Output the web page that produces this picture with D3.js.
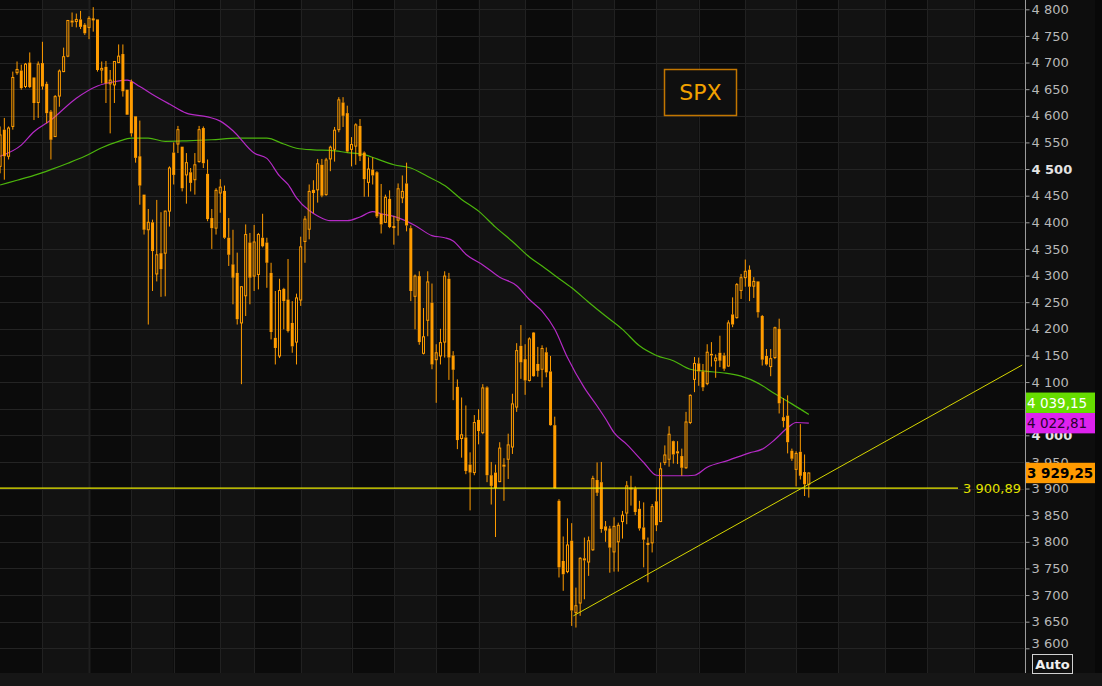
<!doctype html>
<html>
<head>
<meta charset="utf-8">
<title>SPX</title>
<script src="https://d3js.org/d3.v7.min.js"></script>
<style>
  body { margin: 0; background: #0b0b0b; }
  svg { display: block; font-family: "DejaVu Sans", sans-serif; }
</style>
</head>
<body>
<svg id="chart"></svg>
<script>
// daily candles (index 0 = first visible bar)
var opens = [
  4505, 4574, 4524, 4580, 4681, 4685, 4655, 4700, 4672, 4625,
  4699, 4660, 4608, 4561, 4637, 4683, 4712, 4779, 4777, 4781,
  4771, 4766, 4781, 4781, 4686, 4692, 4660, 4658, 4700, 4716,
  4649, 4664, 4599, 4524, 4452, 4386, 4400, 4303, 4342, 4342,
  4421, 4531, 4547, 4542, 4489, 4494, 4480, 4514, 4577, 4491,
  4408, 4389, 4455, 4459, 4371, 4321, 4305, 4211, 4262, 4362,
  4299, 4302, 4371, 4362, 4305, 4183, 4149, 4275, 4255, 4211,
  4175, 4254, 4364, 4387, 4461, 4461, 4508, 4452, 4519, 4537,
  4574, 4625, 4605, 4537, 4543, 4581, 4531, 4475, 4499, 4494,
  4416, 4400, 4444, 4391, 4404, 4446, 4473, 4389, 4261, 4299,
  4154, 4216, 4249, 4142, 4149, 4175, 4294, 4150, 4091, 3994,
  3996, 3945, 3930, 4029, 4005, 4090, 3925, 3930, 3913, 3945,
  3955, 3978, 4053, 4168, 4143, 4103, 4193, 4134, 4124, 4156,
  4120, 4019, 3877, 3764, 3744, 3802, 3667, 3685, 3769, 3762,
  3785, 3916, 3912, 3829, 3825, 3781, 3800, 3838, 3854, 3902,
  3900, 3862, 3827, 3798, 3798, 3876, 3838, 3949, 3955, 3989,
  3970, 3961, 3939, 4024, 4105, 4135, 4120, 4097, 4153, 4140,
  4155, 4150, 4130, 4227, 4221, 4272, 4296, 4311, 4280, 4289,
  4224, 4149, 4129, 4146, 4200, 4034, 4037, 3971, 3936, 3969,
  3931, 3908
];
var highs = [
  4580, 4596, 4580, 4683, 4702, 4696, 4699, 4719, 4672, 4702,
  4739, 4664, 4611, 4639, 4687, 4728, 4780, 4794, 4792, 4797,
  4774, 4787, 4804, 4781, 4702, 4703, 4686, 4702, 4734, 4734,
  4649, 4668, 4599, 4591, 4452, 4425, 4405, 4442, 4419, 4422,
  4505, 4550, 4581, 4542, 4530, 4502, 4530, 4581, 4580, 4518,
  4425, 4464, 4481, 4469, 4408, 4386, 4343, 4280, 4396, 4380,
  4395, 4380, 4416, 4371, 4324, 4271, 4294, 4277, 4331, 4252,
  4266, 4373, 4412, 4471, 4479, 4519, 4519, 4521, 4544, 4579,
  4635, 4635, 4619, 4560, 4586, 4594, 4533, 4522, 4522, 4496,
  4472, 4452, 4460, 4412, 4473, 4488, 4512, 4394, 4302, 4308,
  4239, 4308, 4285, 4171, 4200, 4308, 4305, 4158, 4105, 4071,
  4056, 3968, 4038, 4049, 4096, 4092, 3950, 3945, 3987, 3957,
  4003, 4078, 4173, 4207, 4171, 4184, 4194, 4166, 4169, 4165,
  4149, 4035, 3880, 3810, 3844, 3835, 3714, 3771, 3808, 3810,
  3924, 3949, 3950, 3839, 3830, 3846, 3836, 3858, 3914, 3924,
  3904, 3877, 3874, 3808, 3871, 3902, 3949, 3981, 4017, 3990,
  3989, 3975, 4044, 4077, 4147, 4146, 4134, 4171, 4175, 4152,
  4187, 4155, 4216, 4259, 4286, 4303, 4330, 4319, 4297, 4289,
  4226, 4162, 4162, 4204, 4219, 4070, 4075, 3975, 3970, 4021,
  3964, 3930
];
var lows = [
  4492, 4480, 4518, 4574, 4677, 4649, 4652, 4652, 4592, 4596,
  4649, 4586, 4518, 4560, 4617, 4682, 4710, 4767, 4766, 4763,
  4752, 4744, 4758, 4683, 4661, 4624, 4567, 4624, 4699, 4636,
  4602, 4561, 4512, 4433, 4377, 4208, 4271, 4289, 4260, 4261,
  4392, 4471, 4530, 4458, 4435, 4458, 4452, 4512, 4502, 4402,
  4350, 4377, 4418, 4369, 4318, 4246, 4208, 4096, 4224, 4246,
  4271, 4274, 4353, 4277, 4180, 4133, 4145, 4199, 4193, 4155,
  4133, 4243, 4324, 4368, 4417, 4437, 4447, 4450, 4496, 4514,
  4569, 4579, 4531, 4505, 4508, 4515, 4448, 4448, 4471, 4408,
  4379, 4399, 4389, 4358, 4375, 4436, 4383, 4252, 4199, 4170,
  4152, 4186, 4124, 4061, 4133, 4146, 4104, 4066, 3974, 3958,
  3927, 3859, 3925, 3983, 4002, 3912, 3870, 3809, 3912, 3877,
  3918, 3965, 4044, 4106, 4076, 4101, 4110, 4110, 4090, 4109,
  4018, 3900, 3733, 3708, 3741, 3642, 3639, 3661, 3692, 3736,
  3783, 3886, 3817, 3800, 3742, 3744, 3744, 3806, 3833, 3868,
  3850, 3821, 3752, 3724, 3780, 3820, 3837, 3944, 3941, 3947,
  3946, 3924, 3937, 4021, 4081, 4093, 4083, 4094, 4129, 4108,
  4128, 4121, 4129, 4203, 4219, 4256, 4279, 4252, 4258, 4221,
  4131, 4131, 4111, 4143, 4041, 4015, 3966, 3952, 3904, 3917,
  3886, 3883
];
var closes = [
  4564, 4524, 4577, 4672, 4687, 4652, 4697, 4654, 4624, 4697,
  4655, 4605, 4555, 4636, 4684, 4711, 4779, 4775, 4781, 4767,
  4755, 4783, 4782, 4686, 4689, 4661, 4667, 4702, 4712, 4646,
  4602, 4567, 4521, 4469, 4386, 4400, 4346, 4339, 4312, 4421,
  4502, 4489, 4574, 4464, 4512, 4474, 4508, 4574, 4511, 4406,
  4389, 4460, 4466, 4371, 4339, 4296, 4218, 4279, 4377, 4296,
  4363, 4377, 4355, 4324, 4194, 4164, 4272, 4252, 4196, 4167,
  4258, 4354, 4406, 4458, 4455, 4510, 4450, 4517, 4541, 4573,
  4630, 4600, 4533, 4546, 4583, 4524, 4481, 4500, 4488, 4411,
  4396, 4447, 4391, 4392, 4463, 4458, 4394, 4271, 4299, 4175,
  4185, 4288, 4133, 4155, 4174, 4299, 4146, 4123, 3991, 4001,
  3933, 3930, 4024, 4008, 4089, 3925, 3905, 3901, 3976, 3941,
  3982, 4059, 4159, 4137, 4103, 4181, 4111, 4121, 4163, 4118,
  4019, 3901, 3752, 3739, 3794, 3671, 3680, 3769, 3765, 3802,
  3919, 3892, 3824, 3821, 3789, 3829, 3831, 3850, 3905, 3898,
  3856, 3825, 3804, 3794, 3866, 3831, 3937, 3963, 4002, 3964,
  3966, 3939, 4025, 4075, 4135, 4120, 4090, 4156, 4150, 4145,
  4140, 4125, 4211, 4208, 4283, 4296, 4308, 4279, 4289, 4231,
  4142, 4133, 4144, 4202, 4060, 4027, 3987, 3956, 3966, 3924,
  3908, 3929.25
];

// moving averages (bar index -> value)
var ma50Idx = [0, 5, 8, 12, 18, 23, 27, 30, 33, 36, 40, 44, 49, 52, 55, 60, 63, 66, 68, 70,
  73, 75, 78, 82, 85, 88, 90, 93, 98, 102, 105, 107, 110, 114, 118, 122, 125, 128, 131, 134,
  138, 141, 143, 145, 148, 152, 155, 158, 161, 164, 167, 172, 177, 180, 183, 186, 188, 191];
var ma50Val = [4524, 4545, 4570, 4592, 4633, 4656, 4664, 4667, 4655, 4640, 4622, 4605, 4598, 4590, 4572, 4530, 4520, 4487, 4471, 4446,
  4422, 4412, 4403, 4403, 4410, 4420, 4416, 4411, 4394, 4375, 4371, 4365, 4340, 4320, 4297, 4281, 4255, 4233, 4199, 4146,
  4089, 4055, 4031, 4005, 3983, 3949, 3925, 3924, 3924, 3925, 3940, 3953, 3967, 3974, 3992, 4014, 4024, 4022.81];

var ma100Idx = [0, 4, 8, 12, 16, 20, 24, 28, 31, 35, 39, 44, 50, 56, 63, 67, 70, 74, 78, 82,
  86, 89, 93, 97, 101, 105, 109, 113, 117, 121, 125, 128, 131, 135, 139, 143, 147, 151, 155, 159,
  163, 167, 171, 175, 179, 183, 187, 191];
var ma100Val = [4470, 4479, 4488, 4499, 4511, 4524, 4540, 4552, 4558, 4558, 4552, 4553, 4555, 4558, 4558, 4547, 4539, 4536, 4535, 4531,
  4527, 4519, 4508, 4502, 4486, 4469, 4443, 4421, 4391, 4364, 4335, 4318, 4300, 4277, 4250, 4224, 4199, 4168, 4150, 4140,
  4124, 4120, 4117, 4111, 4098, 4078, 4059, 4039.15];

// date gridlines (1st / 16th of month), as bar indices; 21 = new year
var gridIdx = [10, 21, 31, 41, 52, 60, 71, 83, 93, 103, 113, 124, 135, 145, 155, 165, 176, 188, 198, 209, 219, 230];
var yearIdx = 21;

var yTicks = d3.range(3600, 4801, 50);
var hLevel = 3900.89;
var trendIdx = [135.4, 241.4];
var trendVal = [3661, 4132];
var symbol = "SPX";

// ---------------------------------------------------------------
var W = 1102, H = 686, plotW = 1024, plotH = 673;
var orange = "#ff9c00";

var svg = d3.select("#chart").attr("width", W).attr("height", H);
svg.append("rect").attr("width", W).attr("height", H).attr("fill", "#0d0d0d");

var x = d3.scaleLinear().domain([0, 241.8]).range([0.1, 1023.9]);
var y = d3.scaleLinear().domain([3600, 4800]).range([648.3, 9.3]);

var loc = d3.formatLocale({decimal: ",", thousands: " ", grouping: [3], currency: ["", ""]});
var fmtTick = loc.format(",d"), fmtVal = loc.format(",.2f");

var defs = svg.append("defs");
defs.append("clipPath").attr("id", "plotClip")
  .append("rect").attr("width", plotW).attr("height", plotH);
defs.append("clipPath").attr("id", "axisClip")
  .append("rect").attr("x", 1024).attr("width", 71).attr("height", plotH);

var plot = svg.append("g").attr("clip-path", "url(#plotClip)");

// alternating column shading between date gridlines
var edges = [0].concat(gridIdx.map(d => x(d))).concat([plotW]);
plot.append("g").selectAll("rect").data(d3.range(edges.length - 1)).join("rect")
  .attr("x", k => edges[k]).attr("width", k => edges[k + 1] - edges[k])
  .attr("y", 0).attr("height", plotH)
  .attr("fill", k => k % 2 ? "#121212" : "#0b0b0b");

// horizontal grid
plot.append("g")
  .call(d3.axisRight(y).tickValues(yTicks).tickSize(plotW).tickFormat(""))
  .call(g => g.select(".domain").remove())
  .call(g => g.selectAll(".tick line").attr("stroke", "#242424").attr("shape-rendering", "crispEdges"));

// vertical grid
plot.append("g").selectAll("line").data(gridIdx).join("line")
  .attr("x1", d => Math.round(x(d)) + 0.5).attr("x2", d => Math.round(x(d)) + 0.5)
  .attr("y1", 0).attr("y2", plotH)
  .attr("stroke", d => d === yearIdx ? "#1f1f1f" : "#212121")
  .attr("stroke-width", d => d === yearIdx ? 2 : 1);

// moving averages
var maLine = d3.line().x(d => x(d[0])).y(d => y(d[1])).curve(d3.curveMonotoneX);
plot.append("path").datum(d3.zip(ma100Idx, ma100Val)).attr("d", maLine)
  .attr("fill", "none").attr("stroke", "#4cb50c").attr("stroke-width", 1.2);
plot.append("path").datum(d3.zip(ma50Idx, ma50Val)).attr("d", maLine)
  .attr("fill", "none").attr("stroke", "#b52ac6").attr("stroke-width", 1.2);

// candles
var bars = plot.append("g").selectAll("g").data(d3.range(closes.length)).join("g");
bars.append("path")
  .attr("d", i => {
    var cx = x(i), top = Math.max(opens[i], closes[i]), bot = Math.min(opens[i], closes[i]);
    return "M" + cx + "," + y(highs[i]) + "V" + y(top) + "M" + cx + "," + y(bot) + "V" + y(lows[i]);
  })
  .attr("fill", "none").attr("stroke", orange).attr("stroke-width", 1);
bars.append("rect")
  .attr("x", i => closes[i] > opens[i] ? x(i) - 1 : x(i) - 1.5)
  .attr("width", i => closes[i] > opens[i] ? 2 : 3)
  .attr("y", i => y(Math.max(opens[i], closes[i])))
  .attr("height", i => Math.max(1, y(Math.min(opens[i], closes[i])) - y(Math.max(opens[i], closes[i]))))
  .attr("fill", i => closes[i] > opens[i] ? "none" : orange)
  .attr("stroke", i => closes[i] > opens[i] ? orange : "none")
  .attr("stroke-width", 1);

// horizontal level line + label
plot.append("line")
  .attr("x1", 0).attr("x2", 958)
  .attr("y1", y(hLevel)).attr("y2", y(hLevel))
  .attr("stroke", "#eded00").attr("stroke-width", 1.2);
plot.append("text")
  .attr("x", 1021).attr("y", y(hLevel)).attr("dy", "0.36em")
  .attr("text-anchor", "end").attr("font-size", 13).attr("fill", "#e2e200")
  .text(fmtVal(hLevel));

// trend line
plot.append("line")
  .attr("x1", x(trendIdx[0])).attr("y1", y(trendVal[0]))
  .attr("x2", x(trendIdx[1])).attr("y2", y(trendVal[1]))
  .attr("stroke", "#d6d600").attr("stroke-width", 1);

// symbol box
var sb = svg.append("g");
sb.append("rect").attr("x", 664.5).attr("y", 69.5).attr("width", 72).attr("height", 46)
  .attr("fill", "#0f0f0f").attr("stroke", "#c27600").attr("stroke-width", 1.5);
sb.append("text").attr("x", 700.5).attr("y", 100).attr("text-anchor", "middle")
  .attr("font-size", 22).attr("fill", "#f2a200").text(symbol);

// bottom strip and right edge
svg.append("rect").attr("x", 0).attr("y", plotH).attr("width", W).attr("height", H - plotH).attr("fill", "#161616");
svg.append("rect").attr("x", 1095).attr("y", 0).attr("width", W - 1095).attr("height", plotH).attr("fill", "#080808");

// right price axis
var ax = svg.append("g").attr("transform", "translate(1025.5,0)")
  .call(d3.axisRight(y).tickValues(yTicks).tickSize(4).tickPadding(2).tickFormat(fmtTick));
ax.select(".domain").attr("d", "M0,0V" + plotH).attr("stroke", "#9c9c9c");
ax.selectAll(".tick line").attr("stroke", "#9c9c9c");
ax.selectAll(".tick text")
  .attr("font-family", "DejaVu Sans, sans-serif")
  .attr("font-size", 13)
  .attr("fill", d => d % 500 === 0 ? "#e4e4e4" : "#b8b8b8")
  .attr("font-weight", d => d % 500 === 0 ? "bold" : "normal")
  .attr("transform", d => d === 3600 ? "translate(0,-5)" : null);

// last-value boxes (stacked upward if they collide)
var tags = [
  {v: closes[closes.length - 1], fill: "#ff9a00", text: "#000", bold: true},
  {v: ma50Val[ma50Val.length - 1], fill: "#dd22ee", text: "#2a0030", bold: false},
  {v: ma100Val[ma100Val.length - 1], fill: "#66dd00", text: "#ffffff", bold: false}
];
var boxH = 20.4, limit = Infinity;
tags.forEach(t => {
  var top = y(t.v) - boxH / 2;
  if (top + boxH > limit) top = limit - boxH;
  t.top = top;
  limit = top;
});
var tg = svg.append("g").attr("clip-path", "url(#axisClip)");
tg.selectAll("rect").data(tags).join("rect")
  .attr("x", 1026).attr("y", d => d.top).attr("width", 70).attr("height", boxH)
  .attr("fill", d => d.fill);
tg.selectAll("text").data(tags).join("text")
  .attr("x", 1027).attr("y", d => d.top + boxH / 2).attr("dy", "0.36em")
  .attr("font-size", 13.5)
  .attr("font-weight", d => d.bold ? "bold" : "normal")
  .attr("fill", d => d.text)
  .text(d => fmtVal(d.v));

// Auto button
svg.append("rect").attr("x", 1032.5).attr("y", 654.5).attr("width", 40).attr("height", 19)
  .attr("fill", "#101010").attr("stroke", "#d0d0d0").attr("stroke-width", 1);
svg.append("text").attr("x", 1052.5).attr("y", 669).attr("text-anchor", "middle")
  .attr("font-size", 13).attr("font-weight", "bold").attr("fill", "#f0f0f0").text("Auto");
</script>
</body>
</html>
